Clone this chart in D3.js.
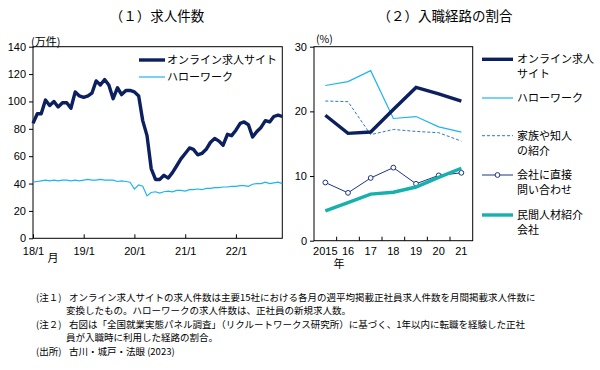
<!DOCTYPE html>
<meta charset="utf-8">
<style>
  body { margin: 0; background: #fff; }
  text { font-family: "Noto Sans CJK JP", sans-serif; fill: #000; }
  .num { font-family: "Liberation Sans Narrow", "Arial Narrow", "Liberation Sans", sans-serif; }
</style>
<svg width="600" height="370"></svg>
<script src="https://d3js.org/d3.v7.min.js"></script>
<script>
// (1) 求人件数, monthly 2018/1 - 2022/12 (万件)
var onlineJobs = [84, 91, 91, 101, 97, 100, 96, 99, 99, 95,
  107, 104, 103, 104, 106, 115, 112, 116, 112, 102,
  110, 105, 108, 108, 107, 104, 86, 75, 51, 43,
  43, 46, 44, 48, 53, 58, 62, 66, 65, 61,
  62, 65, 70, 73, 71, 68, 76, 75, 79, 84,
  85, 83, 74, 78, 81, 86, 85, 89, 90, 89]
var helloWork = [41, 41.5, 42, 42.5, 42, 42.5, 42, 42.5, 42.5, 42,
  42.5, 42, 42.5, 43, 42.5, 42.5, 43, 42.5, 42.5, 42.5,
  41.5, 42, 41.5, 41, 36, 39, 38, 31, 33.5, 34,
  33, 34, 34.5, 34, 35, 35, 34.5, 35.5, 35.5, 36,
  35.5, 36.5, 36.5, 37, 37, 37.5, 37.5, 38, 38, 38.5,
  38.5, 38, 39.5, 40, 40, 41, 40, 40.5, 41, 40]
var leftTicks = [0, 20, 40, 60, 80, 100, 120, 140]
var leftLegend = ['オンライン求人サイト', 'ハローワーク']

// (2) 入職経路の割合 (%)
var years = ['2015', '16', '17', '18', '19', '20', '21']
var routeOnline = [19.4, 16.6, 16.8, 20.3, 23.7, 22.7, 21.6]
var routeHello = [24.0, 24.6, 26.3, 18.9, 19.2, 17.6, 16.8]
var routeFamily = [21.6, 21.5, 16.4, 17.2, 16.9, 16.7, 15.4]
var routeDirect = [9.0, 7.4, 9.7, 11.3, 8.8, 10.1, 10.5]
var routeAgency = [4.6, 5.9, 7.2, 7.5, 8.3, 9.8, 11.2]
var rightTicks = [0, 10, 20, 30]

var notes = [
  ['(注１)', 'オンライン求人サイトの求人件数は主要15社における各月の週平均掲載正社員求人件数を月間掲載求人件数に'],
  ['', '変換したもの。ハローワークの求人件数は、正社員の新規求人数。'],
  ['(注２)', '右図は「全国就業実態パネル調査」（リクルートワークス研究所）に基づく、1年以内に転職を経験した正社'],
  ['', '員が入職時に利用した経路の割合。'],
  ['(出所)', '古川・城戸・法眼 (2023)']
]

var navy = '#0c1f5e', light = '#1db4f0', mid = '#2a78c8', teal = '#17b1ad'

var svg = d3.select('svg')

// ---------- left chart ----------
var months = d3.timeMonth.range(new Date(2018, 0, 1), new Date(2023, 0, 1))
var x1 = d3.scaleTime().domain([months[0], months[months.length - 1]]).range([33, 282.3])
var y1 = d3.scaleLinear().domain([0, 140]).range([238.3, 46.7])

svg.append('text').attr('x', 157).attr('y', 21).attr('text-anchor', 'middle')
  .style('font-size', '13.5px').text('（１）求人件数')

var gl = svg.append('g')
gl.append('rect').attr('x', 33).attr('y', 46.7).attr('width', 249.3).attr('height', 191.6)
  .attr('fill', 'none').attr('stroke', '#000')

gl.append('g').attr('transform', 'translate(33,0)')
  .call(d3.axisLeft(y1).tickValues(leftTicks).tickSize(4).tickSizeOuter(0))
var xAxisL = gl.append('g').attr('transform', 'translate(0,238.3)')
  .call(d3.axisBottom(x1).ticks(d3.timeYear.every(1)).tickSize(-4).tickSizeOuter(0)
    .tickFormat(function (d) { return d3.timeFormat('%y')(d) + '/1' }))
xAxisL.selectAll('text').attr('y', 9)

gl.append('text').attr('x', 31).attr('y', 46).style('font-size', '11px').text('(万件)')
gl.append('text').attr('x', 53).attr('y', 262).attr('text-anchor', 'middle').style('font-size', '11px').text('月')

var line1 = d3.line().x(function (d, i) { return x1(months[i]) }).y(function (d) { return y1(d) })
gl.append('path').datum(helloWork).attr('d', line1).attr('fill', 'none').attr('stroke', light).attr('stroke-width', 1.2)
gl.append('path').datum(onlineJobs).attr('d', line1).attr('fill', 'none').attr('stroke', navy).attr('stroke-width', 3.4)
  .attr('stroke-linejoin', 'round')

var legL = gl.selectAll('.legL').data(leftLegend).enter().append('g')
  .attr('transform', function (d, i) { return 'translate(139,' + (60 + i * 17) + ')' })
legL.append('line').attr('x1', 0).attr('x2', 26)
  .attr('stroke', function (d, i) { return i == 0 ? navy : light })
  .attr('stroke-width', function (d, i) { return i == 0 ? 3.4 : 1.2 })
legL.append('text').attr('x', 28).attr('y', 4).style('font-size', '11px').text(function (d) { return d })

// ---------- right chart ----------
var x2 = d3.scaleBand().domain(years).range([314, 472.7])
var y2 = d3.scaleLinear().domain([0, 30]).range([240.7, 46.7])
var cx = function (d, i) { return x2(years[i]) + x2.bandwidth() / 2 }

svg.append('text').attr('x', 445).attr('y', 21).attr('text-anchor', 'middle')
  .style('font-size', '13.5px').text('（２）入職経路の割合')

var gr = svg.append('g')
gr.append('rect').attr('x', 314).attr('y', 46.7).attr('width', 158.7).attr('height', 194)
  .attr('fill', 'none').attr('stroke', '#000')
gr.append('g').attr('transform', 'translate(314,0)')
  .call(d3.axisLeft(y2).tickValues(rightTicks).tickSize(4).tickSizeOuter(0))
var xAxisR = gr.append('g').attr('transform', 'translate(0,240.7)')
  .call(d3.axisBottom(x2).tickSize(0).tickSizeOuter(0))
xAxisR.selectAll('text').attr('y', 7)
// tick marks on band boundaries
gr.selectAll('.bt').data(years.slice(1)).enter().append('line')
  .attr('x1', function (d) { return x2(d) }).attr('x2', function (d) { return x2(d) })
  .attr('y1', 240.7).attr('y2', 236.7).attr('stroke', '#000')

gr.append('text').attr('x', 316).attr('y', 43).style('font-size', '10.5px').text('(%)')
gr.append('text').attr('x', 339).attr('y', 268).attr('text-anchor', 'middle').style('font-size', '11px').text('年')

var line2 = d3.line().x(cx).y(function (d) { return y2(d) })
var series = [
  { v: routeHello, c: light, w: 1.2, dash: null, name: ['ハローワーク'], ly: 98 },
  { v: routeFamily, c: mid, w: 1, dash: '3,2', name: ['家族や知人', 'の紹介'], ly: 135.7 },
  { v: routeDirect, c: '#1b3585', w: 1, dash: null, name: ['会社に直接', '問い合わせ'], ly: 175, dot: true },
  { v: routeAgency, c: teal, w: 3.4, dash: null, name: ['民間人材紹介', '会社'], ly: 215 },
  { v: routeOnline, c: navy, w: 3.4, dash: null, name: ['オンライン求人', 'サイト'], ly: 59.3 }
]
series.forEach(function (s) {
  gr.append('path').datum(s.v).attr('d', line2).attr('fill', 'none').attr('stroke', s.c)
    .attr('stroke-width', s.w).attr('stroke-dasharray', s.dash)
  if (s.dot) {
    gr.selectAll(null).data(s.v).enter().append('circle')
      .attr('cx', cx).attr('cy', function (d) { return y2(d) }).attr('r', 2.4)
      .attr('fill', '#fff').attr('stroke', s.c).attr('stroke-width', 1)
  }
  var lg = gr.append('g').attr('transform', 'translate(482,' + s.ly + ')')
  lg.append('line').attr('x1', 0).attr('x2', 31).attr('stroke', s.c).attr('stroke-width', s.w)
    .attr('stroke-dasharray', s.dash)
  if (s.dot) lg.append('circle').attr('cx', 15.5).attr('r', 2.4).attr('fill', '#fff').attr('stroke', s.c)
  lg.selectAll('text').data(s.name).enter().append('text').attr('x', 35)
    .attr('y', function (d, i) { return 4 + i * 15 }).style('font-size', '11px').text(function (d) { return d })
})

// axis styling
svg.selectAll('.tick text').attr('class', 'num').style('font-size', '11px').attr('fill', '#000')
svg.selectAll('.domain').remove()
svg.selectAll('.tick line').attr('stroke', '#000')

// ---------- notes ----------
var gn = svg.append('g')
notes.forEach(function (n, i) {
  var y = 301 + i * 13.4
  if (n[0]) gn.append('text').attr('x', 36).attr('y', y).style('font-size', '9.5px').text(n[0])
  gn.append('text').attr('x', n[0] ? 69 : 66).attr('y', y).style('font-size', '9.5px').text(n[1])
})
</script>
